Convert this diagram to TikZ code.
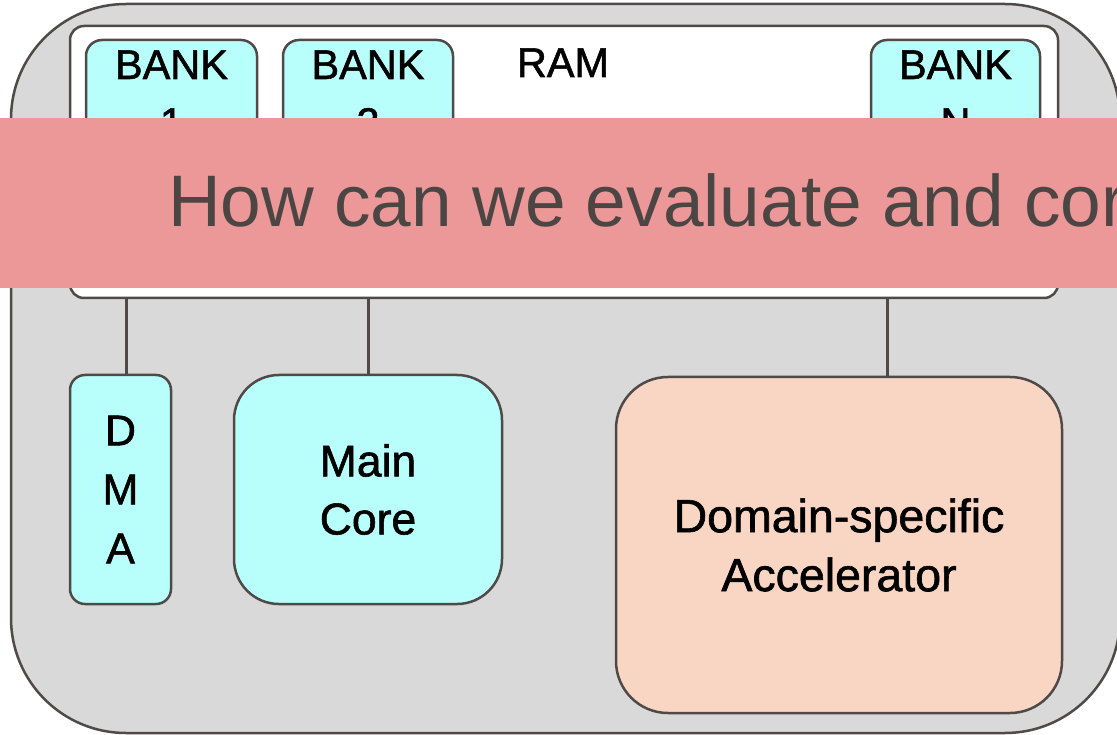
\documentclass[tikz,border=0pt]{standalone}
\usepackage{fontspec}
\setmainfont{Liberation Sans}
\newfontfamily\bx{Liberation Sans}[FakeBold=1.3]
\definecolor{strokec}{HTML}{4F4A48}
\definecolor{grayc}{HTML}{D9D9D9}
\definecolor{cyanc}{HTML}{B8FFFC}
\definecolor{peachc}{HTML}{F9D5C4}
\definecolor{pinkc}{HTML}{EC9798}
\definecolor{bannertext}{HTML}{4B4643}
\tikzset{
  boxbase/.style={draw=strokec, line width=2.5pt, inner sep=0pt, outer sep=0pt, anchor=north west},
  outerbox/.style={boxbase, fill=grayc, rounded corners=115pt},
  rambox/.style={boxbase, fill=white, rounded corners=14pt},
  bankbox/.style={boxbase, fill=cyanc, rounded corners=16pt},
  cyanbox/.style={boxbase, fill=cyanc, align=center},
  accbox/.style={boxbase, fill=peachc, align=center, rounded corners=52pt},
  lbl/.style={inner sep=0pt, outer sep=0pt, anchor=base, font=\bx\fontsize{41.5}{58}\selectfont},
  wire/.style={draw=strokec, line width=3pt},
}
\begin{document}
\begin{tikzpicture}[x=1pt,y=-1pt]
\useasboundingbox (0,0) rectangle (1117,735);
\clip (0,0) rectangle (1117,735);
\node[outerbox, minimum width=1109pt, minimum height=729pt] (outer) at (11,4) {};
\node[rambox, minimum width=988pt, minimum height=272pt] (ram) at (70,26) {};
\node[lbl] (ramt) at (563,77) {RAM};
\node[bankbox, minimum width=171pt, minimum height=120pt] (bank1) at (86,40) {};
\node[bankbox, minimum width=170pt, minimum height=120pt] (bank2) at (283,40) {};
\node[bankbox, minimum width=169pt, minimum height=120pt] (bankn) at (871,40) {};
\node[lbl] (b1a) at (171.5,79) {BANK};
\node[lbl] (b1b) at (171.5,137) {1};
\node[lbl] (b2a) at (368,79) {BANK};
\node[lbl] (b2b) at (368,137) {2};
\node[lbl] (bna) at (955.5,79) {BANK};
\node[lbl] (bnb) at (955.5,137) {N};
\node[anchor=north west, fill=pinkc, inner sep=0pt, outer sep=0pt, minimum width=1117pt, minimum height=170pt] (banner) at (0,118) {};
\node[anchor=base west, inner sep=0pt, text=bannertext, font=\fontsize{73}{80}\selectfont] (bannert) at (168,227) {How can we evaluate and cor};
\node[cyanbox, rounded corners=15pt, minimum width=101pt, minimum height=229pt, font=\bx\fontsize{43}{59}\selectfont] (dma) at (70,375) {D\\M\\A};
\node[cyanbox, rounded corners=45pt, minimum width=268pt, minimum height=229pt, font=\bx\fontsize{44.5}{58}\selectfont] (core) at (234,375) {Main\\Core};
\node[accbox, minimum width=446pt, minimum height=336pt, font=\bx\fontsize{46.5}{59}\selectfont] (acc) at (616,377) {Domain-specific\\Accelerator};
\coordinate (dmatop) at ([xshift=5.5pt]dma.north);
\coordinate (acctop) at ([xshift=48pt]acc.north);
\draw[wire] (dmatop) -- (dmatop |- ram.south);
\draw[wire] (core.north) -- (core.north |- ram.south);
\draw[wire] (acctop) -- (acctop |- ram.south);
\end{tikzpicture}
\end{document}
